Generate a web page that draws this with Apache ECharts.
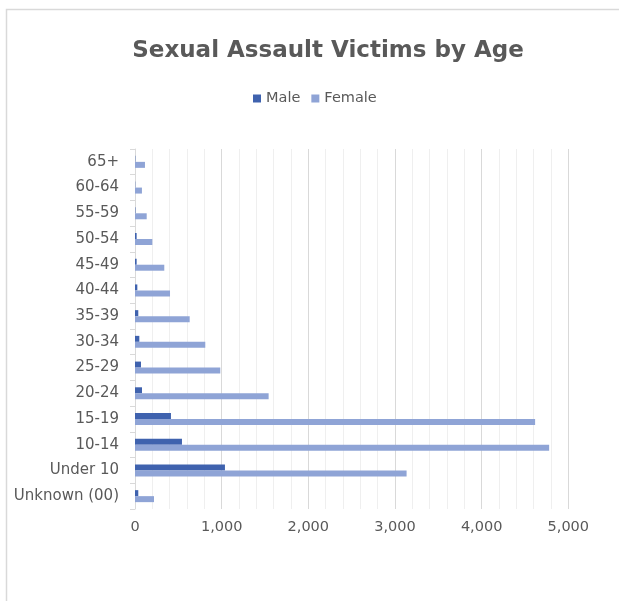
<!DOCTYPE html>
<html>
<head>
<meta charset="utf-8">
<script src="https://cdn.jsdelivr.net/npm/echarts@6/dist/echarts.min.js"></script>
<style>
html,body{margin:0;padding:0;background:#fff;}
#chart{width:619px;height:601px;}
</style>
</head>
<body>
<div id="chart"></div>
<script>
var categories = ['Unknown (00)', 'Under 10', '10-14', '15-19', '20-24', '25-29', '30-34', '35-39', '40-44', '45-49', '50-54', '55-59', '60-64', '65+'];
var maleValues = [38, 1038, 542, 415, 81, 69, 50, 38, 27, 19, 19, 5, 3, 4];
var femaleValues = [219, 3134, 4779, 4617, 1542, 984, 811, 631, 404, 338, 200, 135, 80, 115];
var xTicks = {min: 0, max: 5000, interval: 1000};

var FONT = 'DejaVu Sans';
var TXT = '#595959';
var chart = echarts.init(document.getElementById('chart'), null, {renderer: 'canvas'});
chart.setOption({
  backgroundColor: '#ffffff',
  animation: false,
  graphic: [{
    type: 'rect',
    shape: {x: 6.5, y: 9.5, width: 700, height: 700},
    style: {fill: 'none', stroke: '#d9d9d9', lineWidth: 1.5},
    silent: true
  }],
  title: {
    text: 'Sexual Assault Victims by Age',
    left: 323, textAlign: 'center',
    top: 35,
    textStyle: {fontFamily: FONT, fontSize: 23, fontWeight: 'bold', color: TXT}
  },
  legend: {
    left: 248, top: 86,
    itemWidth: 8, itemHeight: 8, itemGap: 11,
    icon: 'rect',
    textStyle: {fontFamily: FONT, fontSize: 14.5, color: TXT},
    data: ['Male', 'Female']
  },
  grid: {left: 135, top: 149, width: 433.3, height: 360, containLabel: false},
  xAxis: {
    type: 'value',
    min: xTicks.min, max: xTicks.max, interval: xTicks.interval,
    axisLine: {show: false},
    axisTick: {show: false},
    axisLabel: {
      fontFamily: FONT, fontSize: 14.5, color: TXT, margin: 11,
      formatter: function (v) { return v.toLocaleString('en-US'); }
    },
    splitLine: {show: true, lineStyle: {color: '#d9d9d9', width: 1}},
    minorTick: {show: false, splitNumber: 5},
    minorSplitLine: {show: true, lineStyle: {color: '#efefef', width: 1}}
  },
  yAxis: {
    type: 'category',
    data: categories,
    axisLine: {show: true, lineStyle: {color: '#d9d9d9', width: 1}},
    axisTick: {show: true, length: 5, lineStyle: {color: '#d9d9d9'}},
    axisLabel: {fontFamily: FONT, fontSize: 15, color: TXT, margin: 16}
  },
  series: [
    {name: 'Male', type: 'bar', data: maleValues, barWidth: 6, barGap: '0%', itemStyle: {color: '#3F62AE'}},
    {name: 'Female', type: 'bar', data: femaleValues, barWidth: 6, barGap: '0%', itemStyle: {color: '#8FA4D6'}}
  ]
});
</script>
</body>
</html>
